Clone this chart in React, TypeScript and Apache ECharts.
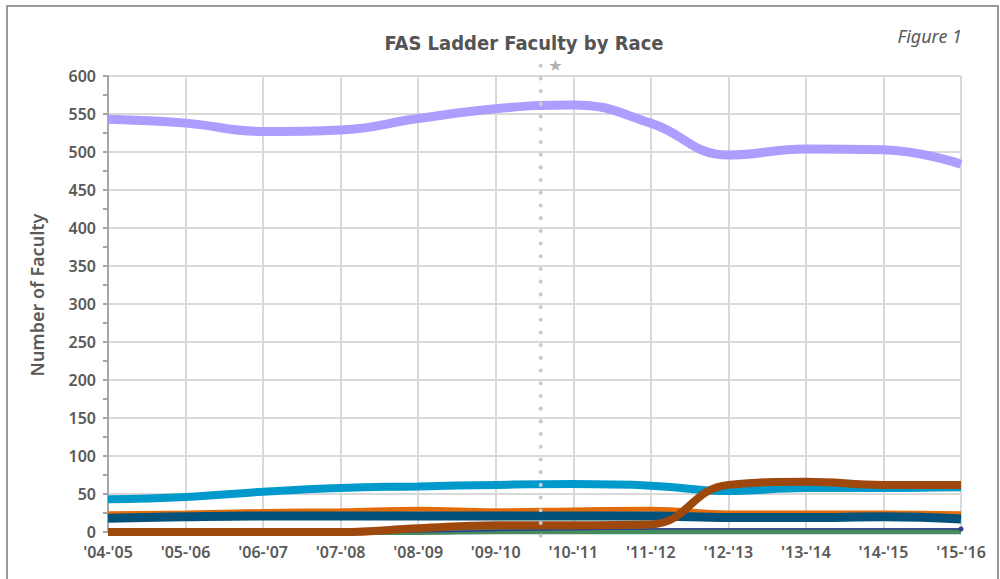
import React, { useEffect, useRef } from "react";
import * as echarts from "echarts";

const categories = ["'04-'05", "'05-'06", "'06-'07", "'07-'08", "'08-'09", "'09-'10", "'10-'11", "'11-'12", "'12-'13", "'13-'14", "'14-'15", "'15-'16"];
const yTicks = [0, 600, 50];
const purpleVals = [543, 538, 527, 529, 544, 557, 562, 538, 496, 504, 503, 484];
const lightBlueVals = [43, 46, 53, 58, 60, 62, 63, 61, 54, 58, 58, 59];
const orangeVals = [24, 25, 27, 28, 30, 28, 29, 30, 25, 25, 25, 24];
const darkBlueVals = [18, 20, 21, 21, 21, 21, 21, 21, 19, 19, 20, 17];
const yellowVals = [1, 1, 1, 1, 1, 2, 2, 1, 1, 1, 1, 1];
const greenVals = [0, 0, 0, 0, 0, 1, 1, 1, 1, 1, 1, 1];
const navyVals = [0, 0, 0, 0, 0, 2, 3, 4, 4, 4, 4, 4];
const brownVals = [0, 0, 0, 0, 5, 9, 9, 10, 62, 66, 62, 62];
const markerX = 5.58;

const FONT = "'Noto Sans', 'Open Sans', sans-serif";
const GREY = "#595959";

function pts(vals: number[]) {
  return vals.map((v, i) => [i, v]);
}

function lineSeries(name: string, vals: number[], color: string, width: number, extra: any = {}) {
  return {
    name,
    type: "line",
    data: pts(vals),
    smooth: 0.45,
    symbol: "none",
    lineStyle: { color, width },
    itemStyle: { color },
    silent: true,
    ...extra,
  };
}

export default function App() {
  const ref = useRef<HTMLDivElement>(null);
  useEffect(() => {
    if (!ref.current) return;
    const chart = echarts.init(ref.current, null, { renderer: "svg" });
    const navyData: any[] = navyVals.map((v, i) =>
      i === navyVals.length - 1
        ? { value: [i, v], symbol: "circle", symbolSize: 5 }
        : { value: [i, v], symbol: "none" }
    );
    chart.setOption({
      animation: false,
      backgroundColor: "#ffffff",
      title: {
        text: "FAS Ladder Faculty by Race",
        left: 519,
        top: 28,
        textAlign: "center",
        textStyle: {
          fontFamily: "'Liberation Sans Narrow', 'DejaVu Sans Condensed', 'Noto Sans', sans-serif",
          fontWeight: "bold",
          fontSize: 20,
          color: "#545454",
        },
      },
      graphic: [
        {
          type: "rect",
          shape: { x: 7, y: 6, width: 991, height: 640 },
          style: { fill: "none", stroke: "#7a7a7a", lineWidth: 1.5 },
          silent: true,
          z: -10,
        },
        {
          type: "text",
          right: 38,
          top: 27,
          style: {
            text: "Figure 1",
            fontFamily: FONT,
            fontStyle: "italic",
            fontWeight: "normal",
            fontSize: 18,
            fill: GREY,
          },
        },
      ],
      grid: [
        { left: 108, right: 39, top: 76, bottom: 47 },
        { left: 108, right: 39, top: 65.7, bottom: 42 },
      ],
      xAxis: [
        {
          type: "value",
          gridIndex: 0,
          min: 0,
          max: categories.length - 1,
          interval: 1,
          axisLine: { show: false },
          axisTick: { show: false },
          axisLabel: {
            formatter: (v: number) => categories[v] ?? "",
            margin: 12,
            fontFamily: FONT,
            fontWeight: 600,
            fontSize: 16,
            color: GREY,
          },
          splitLine: { show: true, lineStyle: { color: "#d9d9d9", width: 2 } },
        },
        {
          type: "value",
          gridIndex: 1,
          min: 0,
          max: categories.length - 1,
          show: false,
        },
      ],
      yAxis: [
        {
          type: "value",
          gridIndex: 0,
          min: yTicks[0],
          max: yTicks[1],
          interval: yTicks[2],
          name: "Number of Faculty",
          nameLocation: "middle",
          nameGap: 62,
          nameTextStyle: {
            fontFamily: FONT,
            fontWeight: 600,
            fontSize: 18,
            color: GREY,
            padding: [0, 0, 0, 18],
          },
          axisLine: { show: true, lineStyle: { color: "#a6a6a6", width: 2 } },
          axisTick: { show: true, length: 5, lineStyle: { color: "#a6a6a6", width: 2 } },
          minorTick: { show: true, splitNumber: 2, length: 5, lineStyle: { color: "#a6a6a6", width: 2 } },
          axisLabel: {
            margin: 12,
            fontFamily: FONT,
            fontWeight: 600,
            fontSize: 16,
            color: GREY,
          },
          splitLine: { show: true, lineStyle: { color: "#d9d9d9", width: 2 } },
        },
        {
          type: "value",
          gridIndex: 1,
          min: 0,
          max: 1,
          show: false,
        },
      ],
      series: [
        lineSeries("Purple", purpleVals, "#ae9cff", 9),
        lineSeries("Light blue", lightBlueVals, "#0099cc", 8),
        lineSeries("Orange", orangeVals, "#e36c0a", 5),
        lineSeries("Dark blue", darkBlueVals, "#02527c", 9),
        lineSeries("Yellow", yellowVals, "#f0b400", 2),
        lineSeries("Green", greenVals, "#468a60", 6),
        {
          name: "Navy",
          type: "line",
          data: navyData,
          smooth: 0.45,
          showSymbol: true,
          symbol: "none",
          lineStyle: { color: "#2b3f8c", width: 1.5 },
          itemStyle: { color: "#2b3f8c" },
          silent: true,
        },
        lineSeries("Brown", brownVals, "#9e480e", 8),
        {
          name: "Marker",
          type: "line",
          xAxisIndex: 1,
          yAxisIndex: 1,
          data: [
            [markerX, 1],
            [markerX, 0],
          ],
          symbol: "none",
          silent: true,
          z: 10,
          lineStyle: { color: "#c9c9c9", width: 4, type: [0.1, 12.6], cap: "round" },
          markPoint: {
            silent: true,
            symbol: "circle",
            symbolSize: 1,
            itemStyle: { color: "rgba(0,0,0,0)" },
            data: [{ coord: [markerX, 1] }],
            label: {
              show: true,
              formatter: "★",
              position: "right",
              offset: [2, 0],
              color: "#b0b0b0",
              fontSize: 16,
              fontFamily: "'DejaVu Sans', sans-serif",
            },
          },
        },
      ],
    });
    return () => chart.dispose();
  }, []);
  return (
    <div
      ref={ref}
      style={{ position: "absolute", left: 0, top: 0, width: 1000, height: 579 }}
    />
  );
}
